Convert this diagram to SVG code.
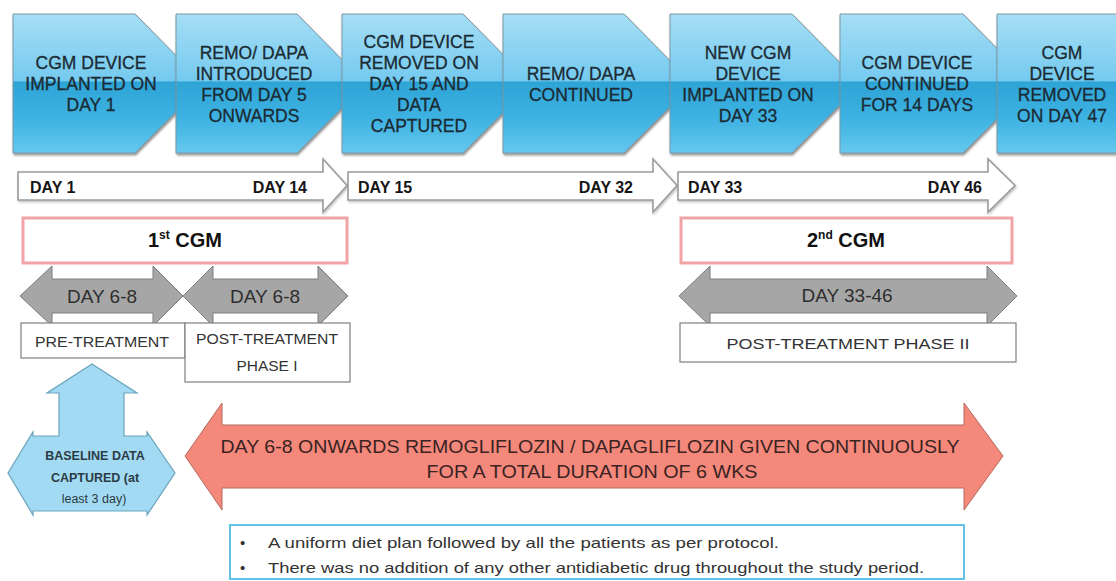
<svg xmlns="http://www.w3.org/2000/svg" width="1116" height="581" viewBox="0 0 1116 581">
<defs>
<linearGradient id="chev" gradientUnits="userSpaceOnUse" x1="0" y1="14" x2="0" y2="153">
<stop offset="0" stop-color="#a6def5"/>
<stop offset="0.48" stop-color="#74caef"/>
<stop offset="0.49" stop-color="#2ea4d6"/>
<stop offset="0.75" stop-color="#3db2e2"/>
<stop offset="1" stop-color="#66c8ef"/>
</linearGradient>
<filter id="sh" x="-10%" y="-10%" width="130%" height="130%">
<feDropShadow dx="1" dy="2" stdDeviation="1.2" flood-color="#404040" flood-opacity="0.55"/>
</filter>
<filter id="sh2" x="-10%" y="-20%" width="130%" height="150%">
<feDropShadow dx="1" dy="1.5" stdDeviation="1" flood-color="#606060" flood-opacity="0.4"/>
</filter>
</defs>
<style>
.chev{fill:url(#chev);stroke:#7d98a4;stroke-width:1;filter:url(#sh)}
.ct{font-family:"Liberation Sans",Arial,sans-serif;font-size:17.5px;fill:#1b2a33;stroke:#1b2a33;stroke-width:0.3;text-anchor:middle}
.day{fill:#fff;stroke:#9c9c9c;stroke-width:1.6;filter:url(#sh2)}
.dt{font-family:"Liberation Sans",Arial,sans-serif;font-size:16px;font-weight:bold;fill:#151515}
.cgm{fill:#fff;stroke:#f2a3a6;stroke-width:3}
.cgt{font-family:"Liberation Sans",Arial,sans-serif;font-size:20px;font-weight:bold;fill:#111;text-anchor:middle}
.gray{fill:#a6a6a6;stroke:#7c7c7c;stroke-width:1}
.gt{font-family:"Liberation Sans",Arial,sans-serif;font-size:19px;fill:#2e2e2e;text-anchor:middle}
.box{fill:#fff;stroke:#7f7f7f;stroke-width:1.2}
.bt{font-family:"Liberation Sans",Arial,sans-serif;font-size:15.5px;fill:#333;text-anchor:middle}
.red{fill:#f4887b;stroke:#b5695f;stroke-width:1}
.rt{font-family:"Liberation Sans",Arial,sans-serif;font-size:19px;fill:#3a2322;text-anchor:middle}
.blue{fill:#a3daf3;stroke:#6aa3bd;stroke-width:1.2}
.blt{font-family:"Liberation Sans",Arial,sans-serif;font-size:12.5px;font-weight:bold;fill:#2b3b44;text-anchor:middle}
.note{fill:#fff;stroke:#62c2e8;stroke-width:2}
.nt{font-family:"Liberation Sans",Arial,sans-serif;font-size:15px;fill:#333}
</style>
<rect width="1116" height="581" fill="#fff"/>

<g id="step1">
<path class="chev" d="M13,14 L135,14 L204,84 L135,153 L13,153 Z"/>
<text class="ct"><tspan x="91" y="69">CGM DEVICE</tspan><tspan x="91" y="90">IMPLANTED ON</tspan><tspan x="91" y="111">DAY 1</tspan></text>
</g>
<g id="step2">
<path class="chev" d="M176,14 L297,14 L366,84 L297,153 L176,153 Z"/>
<text class="ct"><tspan x="254" y="58.5">REMO/ DAPA</tspan><tspan x="254" y="79.5">INTRODUCED</tspan><tspan x="254" y="100.5">FROM DAY 5</tspan><tspan x="254" y="121.5">ONWARDS</tspan></text>
</g>
<g id="step3">
<path class="chev" d="M342,14 L463,14 L532,84 L463,153 L342,153 Z"/>
<text class="ct"><tspan x="419" y="48">CGM DEVICE</tspan><tspan x="419" y="69">REMOVED ON</tspan><tspan x="419" y="90">DAY 15 AND</tspan><tspan x="419" y="111">DATA</tspan><tspan x="419" y="132">CAPTURED</tspan></text>
</g>
<g id="step4">
<path class="chev" d="M503,14 L624,14 L693,84 L624,153 L503,153 Z"/>
<text class="ct"><tspan x="581" y="79.5">REMO/ DAPA</tspan><tspan x="581" y="100.5">CONTINUED</tspan></text>
</g>
<g id="step5">
<path class="chev" d="M670,14 L792,14 L861,84 L792,153 L670,153 Z"/>
<text class="ct"><tspan x="748" y="58.5">NEW CGM</tspan><tspan x="748" y="79.5">DEVICE</tspan><tspan x="748" y="100.5">IMPLANTED ON</tspan><tspan x="748" y="121.5">DAY 33</tspan></text>
</g>
<g id="step6">
<path class="chev" d="M840,14 L963,14 L1032,84 L963,153 L840,153 Z"/>
<text class="ct"><tspan x="917" y="69">CGM DEVICE</tspan><tspan x="917" y="90">CONTINUED</tspan><tspan x="917" y="111">FOR 14 DAYS</tspan></text>
</g>
<g id="step7">
<path class="chev" d="M997,14 L1119,14 L1188,84 L1119,153 L997,153 Z"/>
<text class="ct"><tspan x="1062" y="58.5">CGM</tspan><tspan x="1062" y="79.5">DEVICE</tspan><tspan x="1062" y="100.5">REMOVED</tspan><tspan x="1062" y="121.5">ON DAY 47</tspan></text>
</g>

<g id="connectors">
<g id="day-arrow-1">
<path class="day" d="M18,172 L323,172 L323,159 L347,185.5 L323,212 L323,200 L18,200 Z"/>
<text class="dt" x="30" y="193">DAY 1</text>
<text class="dt" x="307" y="193" text-anchor="end">DAY 14</text>
</g>
<g id="day-arrow-2">
<path class="day" d="M348,172 L653,172 L653,159 L677,185.5 L653,212 L653,200 L348,200 Z"/>
<text class="dt" x="358" y="193">DAY 15</text>
<text class="dt" x="633" y="193" text-anchor="end">DAY 32</text>
</g>
<g id="day-arrow-3">
<path class="day" d="M678,172 L988,172 L988,159 L1015,185.5 L988,212 L988,200 L678,200 Z"/>
<text class="dt" x="688" y="193">DAY 33</text>
<text class="dt" x="982" y="193" text-anchor="end">DAY 46</text>
</g>
</g>

<g id="cgm1">
<rect class="cgm" x="23" y="218" width="324" height="45"/>
<text class="cgt" x="185" y="247">1<tspan font-size="12" dy="-8">st</tspan><tspan dy="8"> CGM</tspan></text>
</g>
<g id="cgm2">
<rect class="cgm" x="681" y="218" width="331" height="45"/>
<text class="cgt" x="846" y="247">2<tspan font-size="12" dy="-8">nd</tspan><tspan dy="8"> CGM</tspan></text>
</g>

<g id="range-pre">
<path class="gray" d="M20,296 L52,266 L52,279 L153,279 L153,266 L183,296 L153,326 L153,313 L52,313 L52,326 Z"/>
<text class="gt" x="102" y="303">DAY 6-8</text>
</g>
<g id="range-post1">
<path class="gray" d="M183,296 L213,266 L213,279 L318,279 L318,266 L348,296 L318,326 L318,313 L213,313 L213,326 Z"/>
<text class="gt" x="265" y="303">DAY 6-8</text>
</g>
<g id="range-post2">
<path class="gray" d="M679,296 L710,266 L710,279 L987,279 L987,266 L1017,296 L987,326 L987,313 L710,313 L710,326 Z"/>
<text class="gt" x="847" y="302">DAY 33-46</text>
</g>

<g id="pre-treatment">
<rect class="box" x="21" y="323" width="164" height="35"/>
<text class="bt" x="102" y="347" textLength="134" lengthAdjust="spacingAndGlyphs">PRE-TREATMENT</text>
</g>
<g id="post-treatment-1">
<rect class="box" x="185" y="323" width="165" height="59"/>
<text class="bt" x="267" y="344" textLength="142" lengthAdjust="spacingAndGlyphs">POST-TREATMENT</text>
<text class="bt" x="267" y="371">PHASE I</text>
</g>
<g id="post-treatment-2">
<rect class="box" x="680" y="323" width="336" height="39"/>
<text class="bt" x="848" y="349" textLength="243" lengthAdjust="spacingAndGlyphs">POST-TREATMENT PHASE II</text>
</g>

<g id="baseline">
<path class="blue" d="M92,364 L137,393 L124,393 L124,436 L147,436 L147,432 L175,473 L147,515 L147,511 L33,511 L33,515 L8,473 L33,432 L33,436 L59,436 L59,393 L47,393 Z"/>
<text class="blt"><tspan x="95" y="460">BASELINE DATA</tspan><tspan x="95" y="482">CAPTURED (at</tspan><tspan x="94" y="503" font-weight="normal">least 3 day)</tspan></text>
</g>

<g id="treatment">
<path class="red" d="M185,456 L222,403 L222,425 L964,425 L964,403 L1003,456 L964,510 L964,488 L222,488 L222,510 Z"/>
<text class="rt" x="590" y="453" textLength="739" lengthAdjust="spacingAndGlyphs">DAY 6-8 ONWARDS REMOGLIFLOZIN / DAPAGLIFLOZIN GIVEN CONTINUOUSLY</text>
<text class="rt" x="592" y="478" textLength="331" lengthAdjust="spacingAndGlyphs">FOR A TOTAL DURATION OF 6 WKS</text>
</g>

<g id="notes">
<rect class="note" x="230" y="525" width="734" height="54"/>
<text class="nt" x="240" y="548">•</text>
<text class="nt" x="268" y="548" textLength="511" lengthAdjust="spacingAndGlyphs">A uniform diet plan followed by all the patients as per protocol.</text>
<text class="nt" x="240" y="573">•</text>
<text class="nt" x="268" y="573" textLength="656" lengthAdjust="spacingAndGlyphs">There was no addition of any other antidiabetic drug throughout the study period.</text>
</g>
</svg>
